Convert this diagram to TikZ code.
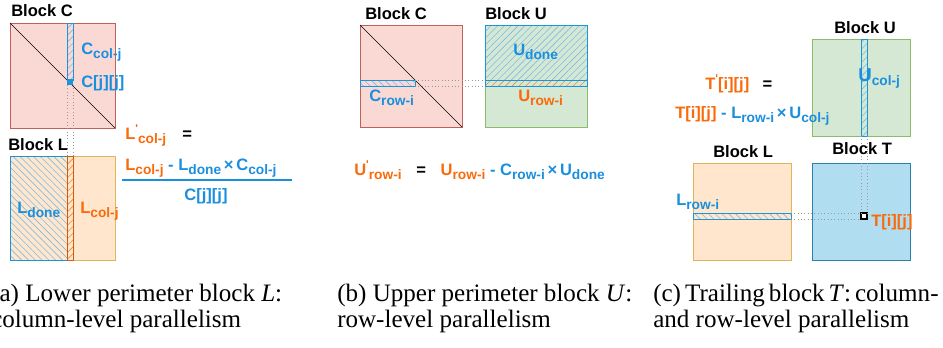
\documentclass[tikz,border=0pt]{standalone}
\usepackage{fontspec}
\setmainfont{Liberation Serif}
\newfontfamily\dgf{Liberation Sans}
\usetikzlibrary{patterns.meta}
\definecolor{tblue}{HTML}{1A8FDD}
\definecolor{torange}{HTML}{F96A0A}
\definecolor{hblue}{HTML}{7DBCE6}
\definecolor{horange}{HTML}{F08A3C}
\definecolor{cfill}{HTML}{FAD9D5}
\definecolor{cdraw}{HTML}{C0605A}
\definecolor{lfill}{HTML}{FFE6CC}
\definecolor{ldraw}{HTML}{E0B55A}
\definecolor{ufill}{HTML}{D5E8D4}
\definecolor{udraw}{HTML}{8DBB6C}
\definecolor{tfill}{HTML}{B1DDF0}
\definecolor{tdraw}{HTML}{2A80AE}
\definecolor{sdraw}{HTML}{1C94D8}
\newcommand\sbs[1]{\raisebox{-3.5pt}{\fontsize{10.3pt}{10pt}\selectfont #1}}
\newcommand\sps[1]{\raisebox{5pt}{\fontsize{8.5pt}{8pt}\selectfont #1}}
\tikzset{
  lbl/.style={font=\dgf\bfseries\fontsize{12.4pt}{14pt}\selectfont, inner sep=0pt, anchor=base west},
  captxt/.style={font=\fontsize{18.8pt}{20pt}\selectfont, inner sep=0pt, anchor=base west},
  dots/.style={gray!80, dotted, line width=0.5pt},
  blockC/.style={fill=cfill, draw=cdraw, line width=0.7pt},
  blockL/.style={fill=lfill, draw=ldraw, line width=0.7pt},
  blockU/.style={fill=ufill, draw=udraw, line width=0.7pt},
  blockT/.style={fill=tfill, draw=tdraw, line width=0.7pt},
  hatchNE/.style={pattern={Lines[angle=45,distance=3.6pt,line width=0.45pt]}, pattern color=#1},
  hatchNW/.style={pattern={Lines[angle=-45,distance=3.6pt,line width=0.45pt]}, pattern color=#1},
  strip/.style={draw=sdraw, line width=0.6pt},
  diag/.style={black, line width=0.5pt},
}
\begin{document}
\begin{tikzpicture}[x=0.75pt,y=-0.75pt]
\useasboundingbox (0,0) rectangle (943,347);
\clip (0,0) rectangle (943,347);

% ================= (a) =================
\draw[blockC] (10,23) rectangle (115,128);
\draw[diag] (10,23) -- (115,128);
\fill[cfill] (67,23) rectangle (73,80);
\fill[hatchNE=hblue] (67,23) rectangle (73,80);
\draw[strip] (67,23) rectangle (73,80);
\fill[sdraw] (67,79) rectangle (73,85);
\coordinate (cjjl) at (67,85);
\coordinate (cjjr) at (73,85);
% Block L
\draw[blockL] (73,156) rectangle (115,260);
\fill[lfill] (10,156) rectangle (67,260);
\fill[hatchNW=hblue] (10,156) rectangle (67,260);
\draw[strip] (10,156) rectangle (67,260);
\fill[lfill] (67,156) rectangle (73,260);
\fill[hatchNE=horange] (67,156) rectangle (73,260);
\draw[draw=torange!85!black, line width=0.7pt] (67,156) rectangle (73,260);
\coordinate (ltl) at (67,156);
\coordinate (ltr) at (73,156);
\draw[dots] (cjjl) -- (ltl);
\draw[dots] (cjjr) -- (ltr);

\node[lbl] (bcA) at (11,16) {Block C};
\node[lbl] (blA) at (8,150) {Block L};
\node[lbl, text=tblue] (ccolj) at (81,54) {C\sbs{col-j}};
\node[lbl, text=tblue] (cjj) at (81,87) {C[j][j]};
\node[lbl, text=tblue] (ldone) at (17,213) {L\sbs{done}};
\node[lbl, text=torange] (lcolj) at (80,213) {L\sbs{col-j}};
\node[lbl] (eqA1) at (125,139) {\textcolor{torange}{L\sps{'}\sbs{col-j}}\hspace{12pt}=};
\node[lbl] (eqA2) at (125,170) {\textcolor{torange}{L\sbs{col-j}}\textcolor{tblue}{\ - L\sbs{done}\,×\,C\sbs{col-j}}};
\draw[tblue, line width=1.1pt] (122,180) -- (292,180);
\node[lbl, text=tblue, anchor=base] (eqA3) at (206,200) {C[j][j]};

% ================= (b) =================
\draw[blockC] (360,25) rectangle (462,127);
\draw[diag] (360,25) -- (462,127);
\fill[hatchNW=hblue] (360,80) rectangle (415,86);
\draw[strip] (360,80) rectangle (415,86);
\coordinate (crt) at (415,80);
\coordinate (crb) at (415,86);
\draw[blockU] (485,25) rectangle (587,127);
\fill[hatchNE=hblue] (485,25) rectangle (587,80);
\draw[strip] (485,25) rectangle (587,80);
\fill[hatchNE=horange] (485,80) rectangle (587,86);
\draw[strip] (485,80) rectangle (587,86);
\coordinate (urt) at (485,80);
\coordinate (urb) at (485,86);
\draw[dots] (crt) -- (urt);
\draw[dots] (crb) -- (urb);

\node[lbl] (bcB) at (365,19) {Block C};
\node[lbl] (buB) at (485,19) {Block U};
\node[lbl, text=tblue] (udone) at (513,55) {U\sbs{done}};
\node[lbl, text=tblue] (crowi) at (369,101) {C\sbs{row-i}};
\node[lbl, text=torange] (urowi) at (518,101) {U\sbs{row-i}};
\node[lbl] (eqB) at (354,175) {\textcolor{torange}{U\sps{'}\sbs{row-i}}\hspace{11pt}=\hspace{11pt}\textcolor{torange}{U\sbs{row-i}}\textcolor{tblue}{\ - C\sbs{row-i}\,×\,U\sbs{done}}};

% ================= (c) =================
\draw[blockU] (812,39) rectangle (910,136);
\fill[hatchNE=hblue] (861,39) rectangle (867,136);
\draw[strip] (861,39) rectangle (867,136);
\coordinate (ucl) at (861,136);
\coordinate (ucr) at (867,136);
\draw[blockT] (812,163) rectangle (910,260);
\draw[blockL] (693,163) rectangle (791,260);
\fill[hatchNW=hblue] (693,213) rectangle (791,219);
\draw[strip] (693,213) rectangle (791,219);
\coordinate (lrt) at (791,213);
\coordinate (lrb) at (791,219);
\draw[fill=white, draw=black, line width=0.8pt] (861,213) rectangle (867,219);
\coordinate (tsl) at (861,213);
\coordinate (tsr) at (867,213);
\coordinate (tsb) at (861,219);
\draw[dots] (ucl) -- (tsl);
\draw[dots] (ucr) -- (tsr);
\draw[dots] (lrt) -- (tsl);
\draw[dots] (lrb) -- (tsb);

\node[lbl] (buC) at (834,33) {Block U};
\node[lbl] (btC) at (832,154) {Block T};
\node[lbl] (blC) at (713,157) {Block L};
\node[lbl, text=tblue, font=\dgf\bfseries\fontsize{14pt}{15pt}\selectfont] (ucolj) at (858,81) {U\sbs{col-j}};
\node[lbl, text=tblue] (lrowi) at (676,205) {L\sbs{row-i}};
\node[lbl, text=torange] (tij) at (871,226) {T[i][j]};
\node[lbl] (eqC1) at (705,89) {\textcolor{torange}{T\sps{'}[i][j]}\hspace{10pt}=};
\node[lbl] (eqC2) at (675,118) {\textcolor{torange}{T[i][j]}\textcolor{tblue}{\ - L\sbs{row-i}\,×\,U\sbs{col-j}}};

% ================= captions =================
\node[captxt] (capA1) at (-9,301) {(a) Lower perimeter block \textit{L}:};
\node[captxt] (capA2) at (-9,327) {column-level parallelism};
\node[captxt] (capB1) at (337,301) {(b) Upper perimeter block \textit{U}:};
\node[captxt] (capB2) at (337,327) {row-level parallelism};
\node[captxt] (capC1) at (653,301) {\spaceskip=0.16em (c) Trailing block \textit{T}: column-};
\node[captxt] (capC2) at (653,327) {and row-level parallelism};
\end{tikzpicture}
\end{document}
